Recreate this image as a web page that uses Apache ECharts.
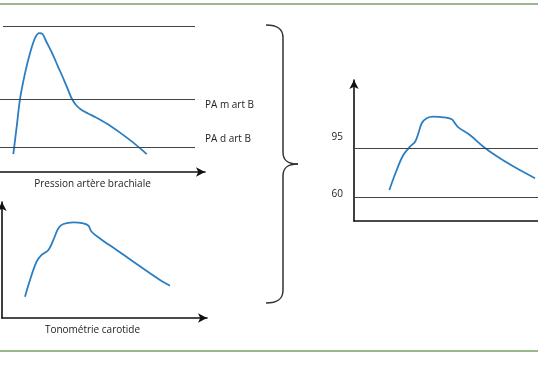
<!DOCTYPE html>
<html>
<head>
<meta charset="utf-8">
<script src="https://cdn.jsdelivr.net/npm/echarts@6/dist/echarts.min.js"></script>
<style>html,body{margin:0;padding:0;background:#fff}#c{width:538px;height:384px}</style>
</head>
<body>
<div id="c"></div>
<script>
// ---- data (arbitrary time units, pressure units) ----
const brachialTime = [6.65, 8.35, 10, 12.5, 15, 17.5, 19.65, 21.25, 23, 26, 29, 32, 34.5, 36, 38, 40.5, 44, 48, 53.35, 60, 66.65, 73.35];
const brachialPress = [11.8, 29.8, 48.0, 64.9, 78.1, 88.0, 91.3, 90.8, 86.2, 78.3, 69.4, 60.5, 52.6, 48.0, 44.1, 41.1, 38.5, 35.9, 31.9, 25.9, 19.3, 11.8];
const brachialLevels = [96.1, 48.0, 16.4];           // systolic, PA m, PA d
const brachialLevelNames = ['', 'PA m art B', 'PA d art B'];

const carotidTime = [11.5, 14, 17.3, 19.8, 23.2, 25.7, 28.2, 30.7, 35.7, 40.7, 43.2, 44.8, 49, 57.3, 65.7, 74, 79, 84];
const carotidPress = [19.2, 34.2, 50.7, 56.8, 61.3, 70.3, 80.8, 84.7, 86.2, 85.3, 83.2, 77.7, 71.7, 61.3, 50.7, 40.3, 34.2, 29.1];

const centralTime = [19.2, 23.2, 26.8, 30.4, 33.2, 35.0, 36.8, 39.5, 43.1, 48.6, 53.1, 54.9, 56.7, 63.0, 70.3, 79.3, 88.4, 98.4];
const centralPress = [65.1, 79.4, 90.1, 96.0, 99.6, 105.6, 112.7, 116.3, 117.4, 117.0, 115.6, 112.7, 109.8, 104.3, 96.0, 87.7, 80.6, 73.5];
const centralLevels = [95, 60];

const titles = ['Pression artère brachiale', 'Tonométrie carotide'];

// ---- chart ----
const FONT = 'Open Sans';
const TXT = '#222';
const BLUE = '#2b7ec2';
const pairs = (a, b) => a.map((v, i) => [v, b[i]]);
const axisArrow = { show: true, symbol: ['none', 'arrow'], symbolSize: [7, 9], lineStyle: { color: '#111', width: 1.6 } };
const refLine = { color: '#444', width: 1, type: 'solid' };
const braceStyle = { fill: 'none', stroke: '#333', lineWidth: 1.5 };
const bez = (x1, y1, cpx1, cpy1, cpx2, cpy2, x2, y2) => ({ type: 'bezierCurve', silent: true, shape: { x1, y1, cpx1, cpy1, cpx2, cpy2, x2, y2 }, style: braceStyle });
const seg = (x1, y1, x2, y2) => ({ type: 'line', silent: true, shape: { x1, y1, x2, y2 }, style: braceStyle });

const chart = echarts.init(document.getElementById('c'), null, { renderer: 'canvas' });
chart.setOption({
  animation: false,
  backgroundColor: '#fff',
  textStyle: { fontFamily: FONT },
  grid: [
    { left: 0, top: 20, width: 205, height: 152 },
    { left: 2, top: 202, width: 205, height: 116 },
    { left: 354, top: 80, right: 0, height: 141 }
  ],
  xAxis: [
    { gridIndex: 0, type: 'value', min: 0, max: 102.5, axisLine: axisArrow, axisTick: { show: false }, axisLabel: { show: false }, splitLine: { show: false },
      name: titles[0], nameLocation: 'middle', nameGap: 7,
      nameTextStyle: { fontFamily: FONT, fontSize: 10, color: TXT, verticalAlign: 'top', padding: [0, 20, 0, 0] } },
    { gridIndex: 1, type: 'value', min: 0, max: 102.5, axisLine: axisArrow, axisTick: { show: false }, axisLabel: { show: false }, splitLine: { show: false },
      name: titles[1], nameLocation: 'middle', nameGap: 7,
      nameTextStyle: { fontFamily: FONT, fontSize: 10, color: TXT, verticalAlign: 'top', padding: [0, 24, 0, 0] } },
    { gridIndex: 2, type: 'value', min: 0, max: 100, axisLine: { show: true, lineStyle: { color: '#111', width: 1.6 } }, axisTick: { show: false }, axisLabel: { show: false }, splitLine: { show: false } }
  ],
  yAxis: [
    { gridIndex: 0, type: 'value', min: 0, max: 100, show: false },
    { gridIndex: 1, type: 'value', min: 0, max: 104.5, axisLine: axisArrow, axisTick: { show: false }, axisLabel: { show: false }, splitLine: { show: false } },
    { gridIndex: 2, type: 'value', min: 43, max: 143.6, axisLine: axisArrow, axisTick: { show: false }, splitLine: { show: false },
      axisLabel: {
        show: true, customValues: centralLevels, margin: 11, fontFamily: FONT, fontSize: 10, color: TXT,
        formatter: v => (v === 95 ? '{a|' + v + '}' : '{b|' + v + '}'),
        rich: { a: { fontFamily: FONT, fontSize: 10, color: TXT, padding: [0, 0, 22, 0] }, b: { fontFamily: FONT, fontSize: 10, color: TXT, padding: [0, 0, 6, 0] } }
      } }
  ],
  series: [
    { type: 'line', xAxisIndex: 0, yAxisIndex: 0, data: pairs(brachialTime, brachialPress), smooth: 0.3, showSymbol: false,
      lineStyle: { color: BLUE, width: 1.8 }, silent: true,
      markLine: { silent: true, symbol: 'none', lineStyle: refLine,
        label: { show: true, position: 'end', distance: 10, fontFamily: FONT, fontSize: 10, color: TXT,
          formatter: p => p.name ? (p.name === brachialLevelNames[1] ? '{m|' + p.name + '}' : '{d|' + p.name + '}') : '',
          rich: { m: { fontFamily: FONT, fontSize: 10, color: TXT, padding: [12, 0, 0, 0] }, d: { fontFamily: FONT, fontSize: 10, color: TXT, padding: [0, 0, 16, 0] } } },
        data: brachialLevels.map((y, i) => [{ name: brachialLevelNames[i], coord: [i === 0 ? 1.5 : 0, y] }, { coord: [97.5, y] }]) } },
    { type: 'line', xAxisIndex: 1, yAxisIndex: 1, data: pairs(carotidTime, carotidPress), smooth: 0.35, showSymbol: false,
      lineStyle: { color: BLUE, width: 1.8 }, silent: true },
    { type: 'line', xAxisIndex: 2, yAxisIndex: 2, data: pairs(centralTime, centralPress), smooth: 0.35, showSymbol: false,
      lineStyle: { color: BLUE, width: 1.8 }, silent: true,
      markLine: { silent: true, symbol: 'none', lineStyle: refLine, label: { show: false },
        data: centralLevels.map(y => [{ coord: [0, y] }, { coord: [100, y] }]) } }
  ],
  graphic: [
    { type: 'line', silent: true, shape: { x1: 0, y1: 4, x2: 538, y2: 4 }, style: { stroke: '#76a063', lineWidth: 1.5 } },
    { type: 'line', silent: true, shape: { x1: 0, y1: 351, x2: 538, y2: 351 }, style: { stroke: '#76a063', lineWidth: 1.5 } },
    bez(266, 25, 278, 25, 283, 29, 283, 38),
    seg(283, 38, 283, 152),
    bez(283, 152, 283, 160, 287, 164, 298, 164),
    bez(298, 164, 287, 164, 283, 168, 283, 176),
    seg(283, 176, 283, 290),
    bez(283, 290, 283, 299, 278, 303, 266, 303)
  ]
});
</script>
</body>
</html>
